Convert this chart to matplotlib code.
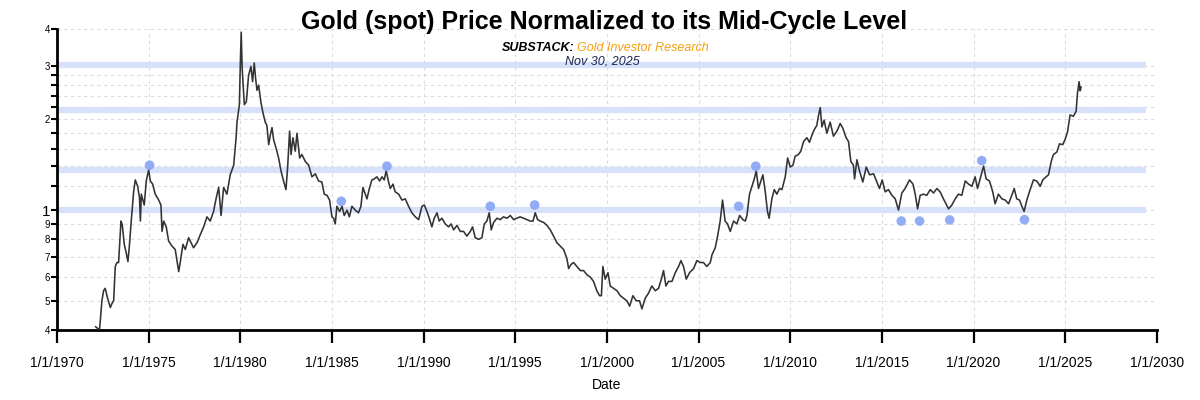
import matplotlib
matplotlib.use("Agg")
import matplotlib.pyplot as plt
from matplotlib.ticker import FixedLocator, FixedFormatter, NullFormatter

plt.rcParams['font.family'] = ['Liberation Sans', 'DejaVu Sans']

# gold spot / mid-cycle level (decimal years)
dates = [
    1972.11, 1972.32, 1972.45, 1972.54, 1972.63, 1972.76, 1972.91, 1973.00, 1973.09, 1973.18,
    1973.27, 1973.36, 1973.49, 1973.56, 1973.67, 1973.78, 1973.87, 1973.94, 1974.05, 1974.18,
    1974.27, 1974.40, 1974.50, 1974.55, 1974.60, 1974.76, 1974.87, 1975.00, 1975.09, 1975.22,
    1975.36, 1975.55, 1975.67, 1975.73, 1975.82, 1975.96, 1976.09, 1976.27, 1976.45, 1976.64,
    1976.73, 1976.87, 1977.00, 1977.18, 1977.31, 1977.45, 1977.64, 1977.82, 1978.00, 1978.18,
    1978.36, 1978.54, 1978.69, 1978.82, 1978.95, 1979.09, 1979.27, 1979.45, 1979.64, 1979.77,
    1979.82, 1979.95, 1980.00, 1980.05, 1980.10, 1980.22, 1980.33, 1980.45, 1980.58, 1980.67,
    1980.76, 1980.84, 1980.91, 1981.00, 1981.13, 1981.24, 1981.36, 1981.45, 1981.55, 1981.64,
    1981.73, 1981.82, 1981.96, 1982.09, 1982.22, 1982.36, 1982.49, 1982.58, 1982.69, 1982.77,
    1982.87, 1983.00, 1983.09, 1983.24, 1983.36, 1983.55, 1983.73, 1983.91, 1984.09, 1984.27,
    1984.45, 1984.58, 1984.73, 1984.87, 1985.00, 1985.09, 1985.18, 1985.27, 1985.42, 1985.55,
    1985.67, 1985.82, 1985.95, 1986.09, 1986.27, 1986.45, 1986.58, 1986.69, 1986.82, 1986.91,
    1987.04, 1987.18, 1987.31, 1987.45, 1987.60, 1987.73, 1987.85, 1987.96, 1988.09, 1988.18,
    1988.33, 1988.45, 1988.64, 1988.82, 1989.00, 1989.18, 1989.36, 1989.55, 1989.73, 1989.91,
    1990.04, 1990.18, 1990.31, 1990.45, 1990.58, 1990.73, 1990.85, 1991.00, 1991.18, 1991.36,
    1991.50, 1991.64, 1991.82, 1992.00, 1992.18, 1992.36, 1992.55, 1992.67, 1992.82, 1993.00,
    1993.18, 1993.31, 1993.45, 1993.58, 1993.69, 1993.82, 1994.00, 1994.18, 1994.36, 1994.55,
    1994.73, 1994.91, 1995.09, 1995.27, 1995.45, 1995.64, 1995.82, 1995.97, 1996.09, 1996.22,
    1996.36, 1996.55, 1996.73, 1996.91, 1997.09, 1997.27, 1997.45, 1997.64, 1997.82, 1997.91,
    1998.04, 1998.18, 1998.36, 1998.55, 1998.73, 1998.91, 1999.09, 1999.27, 1999.45, 1999.60,
    1999.70, 1999.78, 1999.91, 2000.06, 2000.18, 2000.36, 2000.55, 2000.73, 2000.91, 2001.09,
    2001.24, 2001.42, 2001.60, 2001.78, 2001.91, 2002.09, 2002.27, 2002.45, 2002.64, 2002.82,
    2002.97, 2003.09, 2003.22, 2003.36, 2003.55, 2003.73, 2003.91, 2004.04, 2004.18, 2004.33,
    2004.51, 2004.73, 2004.91, 2005.09, 2005.27, 2005.45, 2005.64, 2005.73, 2005.91, 2006.04,
    2006.18, 2006.31, 2006.45, 2006.58, 2006.73, 2006.91, 2007.09, 2007.24, 2007.42, 2007.55,
    2007.64, 2007.78, 2007.95, 2008.04, 2008.15, 2008.27, 2008.40, 2008.51, 2008.64, 2008.76,
    2008.85, 2009.00, 2009.13, 2009.27, 2009.42, 2009.55, 2009.73, 2009.86, 2010.00, 2010.15,
    2010.27, 2010.45, 2010.58, 2010.73, 2010.91, 2011.05, 2011.18, 2011.31, 2011.45, 2011.55,
    2011.64, 2011.73, 2011.85, 2012.00, 2012.18, 2012.36, 2012.55, 2012.73, 2012.87, 2013.05,
    2013.18, 2013.31, 2013.45, 2013.51, 2013.64, 2013.78, 2013.96, 2014.15, 2014.33, 2014.55,
    2014.73, 2014.87, 2015.02, 2015.18, 2015.36, 2015.55, 2015.73, 2015.91, 2016.09, 2016.27,
    2016.51, 2016.70, 2016.82, 2016.95, 2017.09, 2017.27, 2017.45, 2017.64, 2017.82, 2018.00,
    2018.18, 2018.36, 2018.64, 2018.82, 2019.00, 2019.18, 2019.36, 2019.55, 2019.73, 2019.91,
    2020.09, 2020.22, 2020.36, 2020.55, 2020.69, 2020.87, 2021.05, 2021.18, 2021.36, 2021.55,
    2021.73, 2021.91, 2022.09, 2022.22, 2022.36, 2022.51, 2022.64, 2022.76, 2022.91, 2023.05,
    2023.27, 2023.45, 2023.64, 2023.78, 2023.96, 2024.09, 2024.24, 2024.36, 2024.55, 2024.69,
    2024.87, 2025.00, 2025.13, 2025.27, 2025.45, 2025.60, 2025.67, 2025.76, 2025.82, 2025.87,
]
ratio = [
    0.41, 0.40, 0.50, 0.54, 0.55, 0.51, 0.475, 0.49, 0.50, 0.65,
    0.67, 0.67, 0.92, 0.895, 0.77, 0.72, 0.675, 0.75, 0.92, 1.15,
    1.26, 1.20, 1.10, 0.92, 1.13, 1.04, 1.25, 1.36, 1.25, 1.22,
    1.13, 1.08, 1.04, 0.85, 0.92, 0.88, 0.79, 0.76, 0.74, 0.625,
    0.675, 0.77, 0.74, 0.81, 0.78, 0.75, 0.78, 0.83, 0.88, 0.95,
    0.92, 0.99, 1.10, 1.19, 0.96, 1.19, 1.13, 1.31, 1.41, 1.74,
    1.96, 2.24, 3.05, 3.90, 2.97, 2.24, 2.29, 2.80, 3.00, 2.67,
    3.08, 2.72, 2.50, 2.60, 2.27, 2.10, 1.96, 1.91, 1.65, 1.78,
    1.88, 1.71, 1.60, 1.49, 1.35, 1.25, 1.17, 1.38, 1.83, 1.53,
    1.74, 1.57, 1.80, 1.49, 1.53, 1.45, 1.41, 1.29, 1.32, 1.25,
    1.24, 1.13, 1.12, 1.08, 0.95, 0.94, 0.90, 1.03, 0.99, 1.03,
    0.96, 1.00, 0.95, 1.03, 1.00, 0.98, 1.03, 1.19, 1.13, 1.09,
    1.18, 1.26, 1.27, 1.29, 1.25, 1.29, 1.26, 1.35, 1.24, 1.18,
    1.22, 1.15, 1.13, 1.08, 1.09, 1.03, 0.98, 0.95, 0.93, 1.03,
    1.04, 0.99, 0.94, 0.88, 0.94, 0.98, 0.92, 0.94, 0.90, 0.88,
    0.90, 0.86, 0.89, 0.85, 0.85, 0.82, 0.85, 0.88, 0.81, 0.80,
    0.81, 0.90, 0.92, 0.98, 0.86, 0.91, 0.94, 0.93, 0.95, 0.94,
    0.96, 0.93, 0.94, 0.95, 0.94, 0.93, 0.92, 0.92, 0.98, 0.93,
    0.92, 0.91, 0.89, 0.86, 0.82, 0.78, 0.76, 0.74, 0.69, 0.64,
    0.66, 0.67, 0.65, 0.63, 0.63, 0.61, 0.60, 0.58, 0.54, 0.52,
    0.52, 0.65, 0.59, 0.62, 0.56, 0.55, 0.54, 0.52, 0.51, 0.50,
    0.48, 0.52, 0.50, 0.50, 0.47, 0.51, 0.53, 0.56, 0.54, 0.55,
    0.59, 0.63, 0.56, 0.58, 0.58, 0.62, 0.65, 0.68, 0.65, 0.59,
    0.62, 0.64, 0.68, 0.67, 0.67, 0.65, 0.67, 0.71, 0.75, 0.82,
    0.92, 1.08, 0.92, 0.90, 0.85, 0.92, 0.90, 0.96, 0.93, 0.92,
    0.96, 1.13, 1.22, 1.27, 1.35, 1.18, 1.25, 1.31, 1.15, 0.99,
    0.94, 1.09, 1.17, 1.13, 1.18, 1.17, 1.29, 1.49, 1.39, 1.41,
    1.51, 1.53, 1.57, 1.69, 1.74, 1.68, 1.77, 1.85, 1.91, 2.07,
    2.19, 1.89, 1.99, 1.80, 1.96, 1.76, 1.83, 1.94, 1.87, 1.74,
    1.69, 1.45, 1.41, 1.27, 1.47, 1.35, 1.24, 1.39, 1.31, 1.32,
    1.24, 1.18, 1.26, 1.15, 1.17, 1.12, 1.09, 1.00, 1.14, 1.18,
    1.26, 1.22, 1.13, 1.01, 1.12, 1.13, 1.12, 1.17, 1.14, 1.18,
    1.15, 1.09, 1.01, 1.04, 1.09, 1.13, 1.12, 1.25, 1.22, 1.20,
    1.29, 1.18, 1.27, 1.40, 1.27, 1.25, 1.15, 1.05, 1.13, 1.09,
    1.08, 1.05, 1.12, 1.18, 1.09, 1.08, 1.03, 0.99, 1.08, 1.15,
    1.26, 1.25, 1.20, 1.26, 1.29, 1.31, 1.45, 1.53, 1.56, 1.66,
    1.65, 1.72, 1.82, 2.07, 2.05, 2.13, 2.44, 2.67, 2.49, 2.56,
]

# cycle tops / bottoms marked with dots
dot_dates = [1975.05, 1985.51, 1988.00, 1993.64, 1996.06, 2007.19, 2008.12,
             2016.06, 2017.06, 2018.70, 2020.45, 2022.78]
dot_ratio = [1.41, 1.07, 1.40, 1.03, 1.04, 1.03, 1.40,
             0.92, 0.92, 0.928, 1.46, 0.93]

bands = [1.0, 1.36, 2.15, 3.03]

x_years = list(range(1970, 2031, 5))
x_labels = ['1/1/%d' % y for y in x_years]
y_major = [0.4, 0.5, 0.6, 0.7, 0.8, 0.9, 1.0, 2.0, 3.0, 4.0]
y_labels = ['4', '5', '6', '7', '8', '9', '1', '2', '3', '4']
y_minor = [1.2, 1.4, 1.6, 1.8, 2.2, 2.4, 2.6, 2.8]

fig = plt.figure(figsize=(12, 4), dpi=100)
ax = fig.add_axes([0.0475, 0.175, 0.9165, 0.753])
ax.set_yscale('log')

ax.hlines(bands, 1970.1, 2029.4, color='#d8e1fa', linewidth=4.5, zorder=1)
ax.plot(dates, ratio, color='#333333', linewidth=1.15, zorder=3)
ax.scatter(dot_dates, dot_ratio, s=48, color='#86a4f5', alpha=0.9, edgecolors='none', zorder=4)

ax.set_xlim(1970, 2030)
ax.set_ylim(0.4, 4)

ax.xaxis.set_major_locator(FixedLocator(x_years))
ax.xaxis.set_major_formatter(FixedFormatter(x_labels))
ax.xaxis.set_minor_locator(FixedLocator([]))
ax.yaxis.set_major_locator(FixedLocator(y_major))
ax.yaxis.set_major_formatter(FixedFormatter(y_labels))
ax.yaxis.set_minor_locator(FixedLocator(y_minor))
ax.yaxis.set_minor_formatter(NullFormatter())

ax.grid(True, which='both', color='#dcdcdc', linestyle=(0, (3, 3)), linewidth=0.8, zorder=0)
ax.set_axisbelow(True)

for s in ['top', 'right']:
    ax.spines[s].set_visible(False)
for s in ['left', 'bottom']:
    ax.spines[s].set_linewidth(2)

ax.tick_params(axis='x', length=9.5, width=1.6, labelsize=10, pad=9)
ax.tick_params(axis='y', which='both', length=4, width=1.5, labelsize=7, pad=1)
for lab in ax.get_yticklabels():
    if lab.get_text() == '1':
        lab.set_fontsize(11)

ax.set_xlabel('Date', fontsize=10, labelpad=6)

fig.text(0.503, 0.944, 'Gold (spot) Price Normalized to its Mid-Cycle Level',
         ha='center', va='center', fontsize=18, fontweight='bold')
fig.text(0.479, 0.881, 'SUBSTACK:', ha='right', va='center', fontsize=9,
         fontweight='bold', fontstyle='italic', color='black')
fig.text(0.481, 0.881, 'Gold Investor Research', ha='left', va='center', fontsize=9,
         fontstyle='italic', color='#f5a00a')
fig.text(0.502, 0.845, 'Nov 30, 2025', ha='center', va='center', fontsize=9,
         fontstyle='italic', color='#1c2550')

fig.savefig('out.png', dpi=100)
